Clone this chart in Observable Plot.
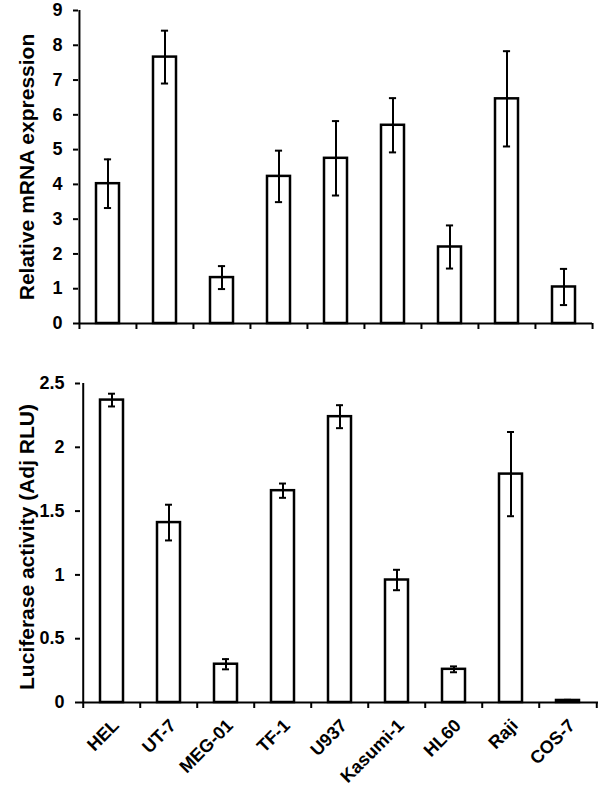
<!DOCTYPE html>
<html>
<head>
<meta charset="utf-8">
<script src="https://cdn.jsdelivr.net/npm/d3@7"></script>
<script src="https://cdn.jsdelivr.net/npm/@observablehq/plot@0.6"></script>
<style>
  html, body { margin: 0; padding: 0; background: #fff; }
  #chart { width: 600px; height: 789px; }
  #chart svg { display: block; }
</style>
</head>
<body>
<div id="chart"></div>
<script>
const cats = ["HEL", "UT-7", "MEG-01", "TF-1", "U937", "Kasumi-1", "HL60", "Raji", "COS-7"];
const mrna = [4.02, 7.66, 1.32, 4.23, 4.75, 5.70, 2.20, 6.46, 1.05];
const mrnaErr = [0.70, 0.76, 0.33, 0.74, 1.07, 0.78, 0.62, 1.37, 0.52];
const luc = [2.37, 1.41, 0.30, 1.66, 2.24, 0.96, 0.26, 1.79, 0.016];
const lucErr = [0.05, 0.14, 0.04, 0.056, 0.09, 0.08, 0.023, 0.33, 0.005];
const mrnaTicks = [0, 1, 2, 3, 4, 5, 6, 7, 8, 9];
const lucTicks = [0, 0.5, 1, 1.5, 2, 2.5];
const mrnaTitle = "Relative mRNA expression";
const lucTitle = "Luciferase activity (Adj RLU)";

const FONT = "'Liberation Sans', Arial, sans-serif";

function panel({values, errs, ticks, yMax, title, height, mt, mb, ml, mr, showX, titleDy}) {
  const W = 600;
  const step = (W - ml - mr) / cats.length;
  const rows = cats.map((c, i) => ({c, v: values[i], e: errs[i]}));
  const capInset = step * 0.4 / 2 - 3.5;
  const marks = [
    Plot.barY(rows, {x: "c", y: "v", fill: "white", stroke: "black", strokeWidth: 2.5}),
    Plot.ruleX(rows, {x: "c", y1: d => d.v - d.e, y2: d => d.v + d.e, stroke: "black", strokeWidth: 2}),
    Plot.tickY(rows, {x: "c", y: d => d.v + d.e, stroke: "black", strokeWidth: 2, insetLeft: capInset, insetRight: capInset}),
    Plot.tickY(rows, {x: "c", y: d => d.v - d.e, stroke: "black", strokeWidth: 2, insetLeft: capInset, insetRight: capInset}),
    Plot.ruleX([cats[0]], {x: d => d, dx: -step / 2, y1: 0, y2: yMax, stroke: "black", strokeWidth: 2}),
    Plot.ruleY([0], {stroke: "black", strokeWidth: 2}),
    Plot.ruleX(cats, {x: d => d, dx: -step / 2, y1: 0, y2: 0, insetBottom: -6, stroke: "black", strokeWidth: 2}),
    Plot.ruleX([cats[cats.length - 1]], {x: d => d, dx: step / 2, y1: 0, y2: 0, insetBottom: -6, stroke: "black", strokeWidth: 2}),
    Plot.axisY({ticks, tickFormat: d => String(d), tickSize: 5, tickPadding: 11, strokeWidth: 2, fontSize: 18, fontWeight: "bold", label: null}),
    Plot.text([title], {frameAnchor: "left", dx: -ml + 27, dy: titleDy, rotate: -90, textAnchor: "middle", lineAnchor: "middle", fontSize: 21, fontWeight: "bold", fill: "black"})
  ];
  if (showX) {
    marks.push(Plot.text(cats, {x: d => d, y: 0, text: d => d, rotate: -45, textAnchor: "end", lineAnchor: "middle", dx: 4, dy: 20, fontSize: 18, fontWeight: "bold", fill: "black"}));
  }
  return Plot.plot({
    width: W,
    height,
    marginTop: mt,
    marginBottom: mb,
    marginLeft: ml,
    marginRight: mr,
    style: {fontFamily: FONT, color: "black", background: "white", overflow: "visible"},
    x: {domain: cats, paddingInner: 0.6, paddingOuter: 0.3, axis: null},
    y: {domain: [0, yMax], axis: null},
    marks
  });
}

const chart = document.getElementById("chart");
chart.appendChild(panel({values: mrna, errs: mrnaErr, ticks: mrnaTicks, yMax: 9, title: mrnaTitle, height: 345, mt: 10, mb: 22, ml: 78, mr: 8, showX: false, titleDy: 0}));
chart.appendChild(panel({values: luc, errs: lucErr, ticks: lucTicks, yMax: 2.5, title: lucTitle, height: 444, mt: 38, mb: 87, ml: 80, mr: 2, showX: true, titleDy: 4}));
</script>
</body>
</html>
